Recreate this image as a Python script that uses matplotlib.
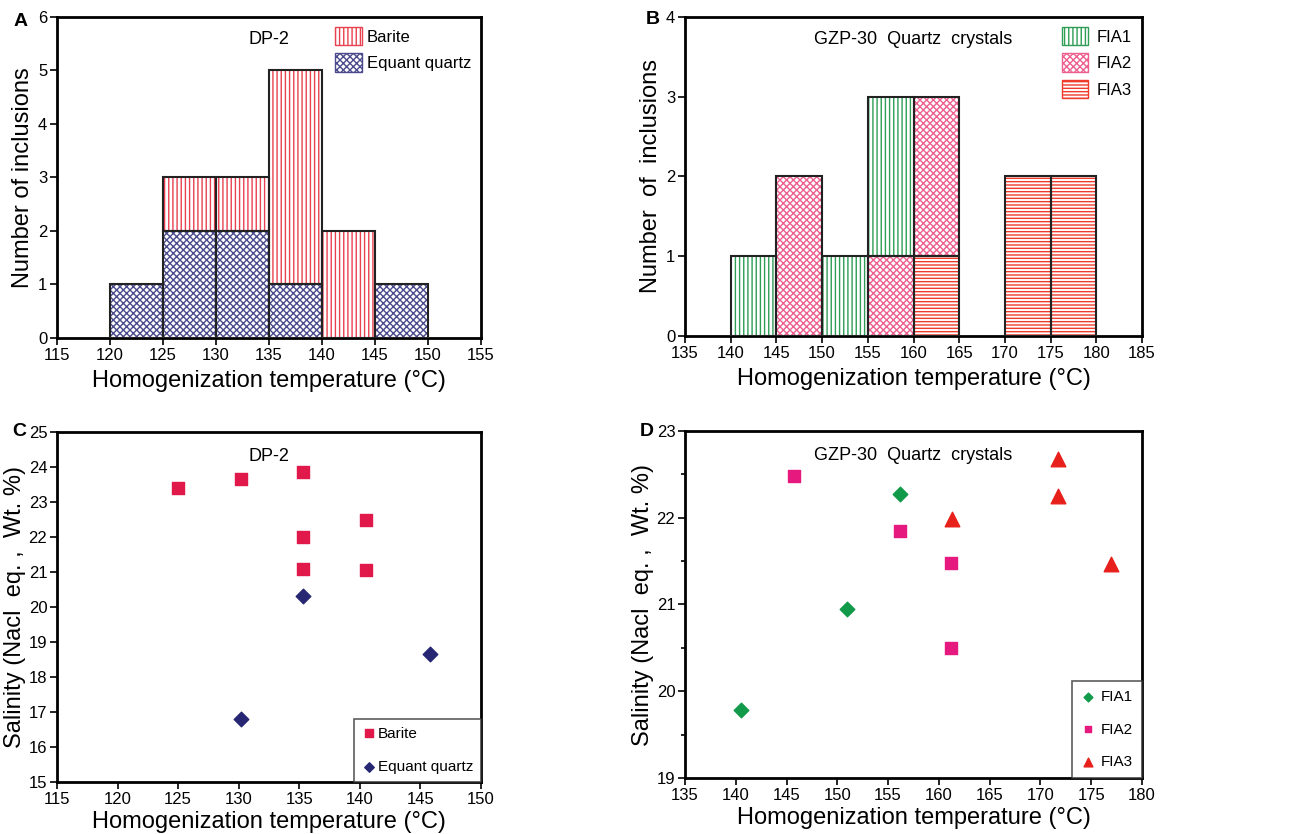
import matplotlib.pyplot as plt
import matplotlib.patches as mpatches
from matplotlib.ticker import MultipleLocator
import matplotlib.font_manager as fm

names = {f.name for f in fm.fontManager.ttflist}
fam = 'Liberation Sans Narrow' if 'Liberation Sans Narrow' in names else 'Liberation Sans'
plt.rcParams['font.family'] = [fam, 'DejaVu Sans']
plt.rcParams['hatch.linewidth'] = 1.0

# ---- panel A data (bins of 5 degC) ----
binsA = [120, 125, 130, 135, 140, 145]
quartzA = [1, 2, 2, 1, 0, 1]
bariteA = [0, 1, 1, 4, 2, 0]

# ---- panel B data ----
binsB = [140, 145, 150, 155, 160, 165, 170, 175]
fia1B = [1, 0, 1, 2, 0, 0, 0, 0]
fia2B = [0, 2, 0, 1, 2, 0, 0, 0]
fia3B = [0, 0, 0, 0, 1, 0, 2, 2]

# ---- panel C data ----
bar_T = [125.0, 130.2, 135.3, 135.3, 135.3, 140.5, 140.5]
bar_S = [23.4, 23.65, 23.85, 22.0, 21.1, 22.5, 21.05]
qz_T = [135.3, 130.2, 145.8]
qz_S = [20.32, 16.8, 18.65]

# ---- panel D data ----
f1_T = [140.5, 151.0, 156.2]
f1_S = [19.78, 20.95, 22.27]
f2_T = [145.7, 156.2, 161.2, 161.2]
f2_S = [22.48, 21.85, 21.48, 20.5]
f3_T = [171.7, 171.7, 161.3, 176.9]
f3_S = [22.68, 22.25, 21.98, 21.47]

W = 5


def hbar(ax, x, h, bottom, color, hatch):
    xs = [b for b, v in zip(x, h) if v > 0]
    hs = [v for v in h if v > 0]
    bs = [b for b, v in zip(bottom, h) if v > 0]
    ax.bar(xs, hs, W, bottom=bs, align='edge', facecolor='white',
           edgecolor=color, hatch=hatch, linewidth=0, zorder=2)
    ax.bar(xs, hs, W, bottom=bs, align='edge', fill=False,
           edgecolor='#222222', linewidth=1.5, zorder=3)


def style(ax):
    for s in ax.spines.values():
        s.set_linewidth(2)
    ax.tick_params(direction='out', length=5, width=1.2, labelsize=12, pad=2)
    ax.tick_params(which='minor', direction='out', length=3, width=1.2)


fig = plt.figure(figsize=(12.91, 8.34), dpi=100)
W_, H_ = 1291, 834
def place(l, t, r, b):
    return fig.add_axes([l / W_, 1 - b / H_, (r - l) / W_, (b - t) / H_])

axA = place(57, 17, 481, 338)
axB = place(685, 17, 1142, 336)
axC = place(57, 432, 481, 782)
axD = place(685, 431, 1142, 778)

red = '#e8414f'
navy = '#4a4a8c'
green = '#2e9e55'
pink = '#ec5f8e'
orange = '#ef3b2c'

# A
hbar(axA, binsA, quartzA, [0] * 6, navy, 'xxxxx')
hbar(axA, binsA, bariteA, quartzA, red, '||||')
axA.set_xlim(115, 155)
axA.set_ylim(0, 6)
axA.set_xticks(range(115, 156, 5))
axA.set_yticks(range(0, 7))
axA.text(0.5, 0.93, 'DP-2', transform=axA.transAxes, ha='center', va='center', fontsize=13)
hA = [mpatches.Patch(facecolor='white', edgecolor=red, hatch='||||', label='Barite'),
      mpatches.Patch(facecolor='white', edgecolor=navy, hatch='xxxxx', label='Equant quartz')]
axA.legend(handles=hA, loc='upper right', frameon=False, fontsize=12,
           handlelength=1.6, handleheight=1.3, borderaxespad=0.2, handletextpad=0.3,
           labelspacing=0.5)

# B
b3 = fia3B
b2 = [a + b for a, b in zip(fia3B, fia2B)]
hbar(axB, binsB, fia3B, [0] * 8, orange, '-----')
hbar(axB, binsB, fia2B, b3, pink, 'xxxxx')
hbar(axB, binsB, fia1B, b2, green, '||||')
axB.set_xlim(135, 185)
axB.set_ylim(0, 4)
axB.set_xticks(range(135, 186, 5))
axB.set_yticks(range(0, 5))
axB.text(0.5, 0.93, 'GZP-30  Quartz  crystals', transform=axB.transAxes, ha='center', va='center', fontsize=13)
hB = [mpatches.Patch(facecolor='white', edgecolor=green, hatch='||||', label='FIA1'),
      mpatches.Patch(facecolor='white', edgecolor=pink, hatch='xxxxx', label='FIA2'),
      mpatches.Patch(facecolor='white', edgecolor=orange, hatch='-----', label='FIA3')]
axB.legend(handles=hB, loc='upper right', frameon=False, fontsize=12,
           handlelength=1.6, handleheight=1.3, borderaxespad=0.2, handletextpad=0.5,
           labelspacing=0.5)

# C
axC.scatter(bar_T, bar_S, marker='s', s=80, color='#e0194a', label='Barite', zorder=3)
axC.scatter(qz_T, qz_S, marker='D', s=55, color='#262673', label='Equant quartz', zorder=3)
axC.set_xlim(115, 150)
axC.set_ylim(15, 25)
axC.set_xticks(range(115, 151, 5))
axC.set_yticks(range(15, 26))
axC.text(0.5, 0.93, 'DP-2', transform=axC.transAxes, ha='center', va='center', fontsize=13)
lc = axC.legend(loc='lower right', fontsize=11, fancybox=False, edgecolor='#333333',
                borderaxespad=0, handletextpad=0.1, markerscale=0.65, labelspacing=1.3,
                borderpad=0.5, handlelength=1.0)
lc.get_frame().set_linewidth(1.2)

# D
axD.scatter(f1_T, f1_S, marker='D', s=55, color='#119a4a', label='FIA1', zorder=3)
axD.scatter(f2_T, f2_S, marker='s', s=70, color='#e6197f', label='FIA2', zorder=3)
axD.scatter(f3_T, f3_S, marker='^', s=110, color='#e8201c', label='FIA3', zorder=3)
axD.set_xlim(135, 180)
axD.set_ylim(19, 23)
axD.set_xticks(range(135, 181, 5))
axD.set_yticks(range(19, 24))
axD.yaxis.set_minor_locator(MultipleLocator(0.5))
axD.text(0.5, 0.93, 'GZP-30  Quartz  crystals', transform=axD.transAxes, ha='center', va='center', fontsize=13)
ld = axD.legend(loc='lower right', fontsize=11, fancybox=False, edgecolor='#333333',
                borderaxespad=0, handletextpad=0.3, markerscale=0.6, labelspacing=1.2,
                borderpad=0.6, handlelength=1.0)
ld.get_frame().set_linewidth(1.2)

for ax in (axA, axB, axC, axD):
    style(ax)
    pad = 5 if ax in (axA, axB) else 3
    ax.set_xlabel('Homogenization temperature (°C)', fontsize=17, labelpad=pad)

axA.set_ylabel('Number of inclusions', fontsize=17, labelpad=3)
axB.set_ylabel('Number  of  inclusions', fontsize=17, labelpad=3)
axC.set_ylabel('Salinity (Nacl  eq. ,  Wt. %)', fontsize=17, labelpad=2)
axD.set_ylabel('Salinity (Nacl  eq. ,  Wt. %)', fontsize=17, labelpad=2)

for x, y, lab in ((14, 22, 'A'), (646, 20, 'B'), (12, 432, 'C'), (640, 432, 'D')):
    fig.text(x / W_, 1 - y / H_, lab, fontsize=14, fontweight='bold',
             ha='left', va='center', family='Liberation Sans')

fig.savefig('out.png', dpi=100)
